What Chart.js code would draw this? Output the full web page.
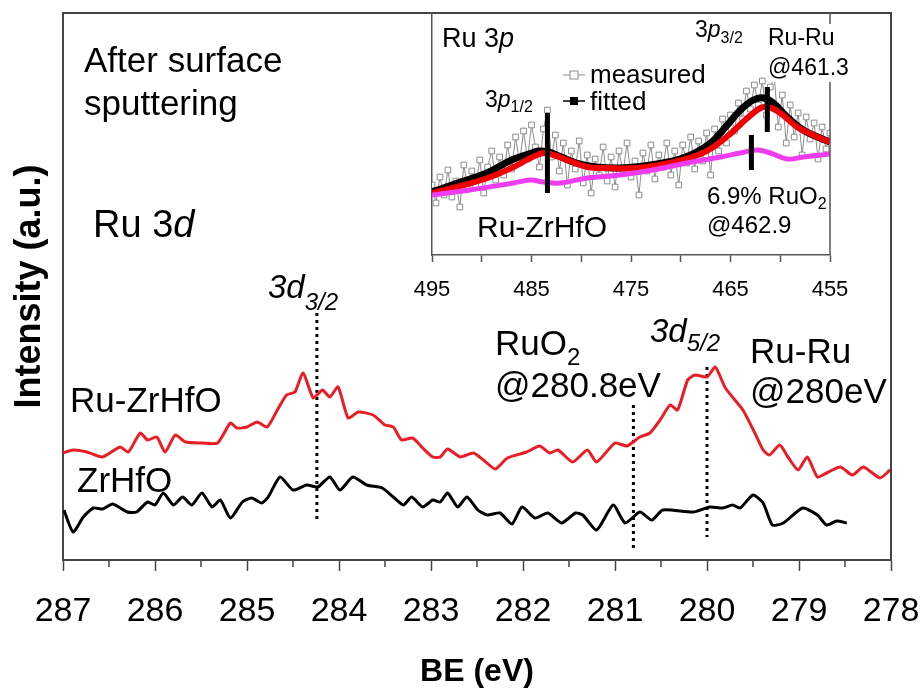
<!DOCTYPE html>
<html lang="en">
<head>
<meta charset="UTF-8">
<title>Ru 3d / Ru 3p XPS after surface sputtering</title>
<script src="https://cdn.jsdelivr.net/npm/chart.js"></script>
<style>
  body { margin: 0; background: #fff; }
  #wrap { position: relative; width: 921px; height: 690px; }
  #mainChart { position: absolute; left: 0; top: 0; }
  #insetChart { position: absolute; left: 400px; top: 0; }
</style>
</head>
<body>
<div id="wrap">
  <canvas id="mainChart" width="921" height="690"></canvas>
  <canvas id="insetChart" width="460" height="320"></canvas>
</div>
<script>
// ---- main panel: Ru 3d region (BE in eV, intensity in a.u.) ----
const ruZrHfO_BE = [287.00, 286.89, 286.74, 286.57, 286.38, 286.29, 286.16, 286.08, 285.98, 285.89,
  285.78, 285.67, 285.48, 285.32, 285.18, 285.11, 285.00, 284.89, 284.78, 284.67,
  284.57, 284.48, 284.39, 284.28, 284.18, 284.10, 284.01, 283.90, 283.79, 283.63,
  283.50, 283.41, 283.32, 283.20, 283.09, 282.98, 282.90, 282.82, 282.68, 282.54,
  282.43, 282.30, 282.17, 281.96, 281.82, 281.71, 281.62, 281.46, 281.30, 281.20,
  281.00, 280.87, 280.73, 280.62, 280.51, 280.40, 280.32, 280.21, 280.13, 280.00,
  279.91, 279.80, 279.61, 279.48, 279.39, 279.32, 279.21, 279.12, 279.01, 278.91,
  278.80, 278.70, 278.55, 278.42, 278.30, 278.12, 278.01];
const ruZrHfO_I = [107, 110, 108, 103, 113, 108, 127, 120, 123, 108,
  125, 118, 117, 117, 137, 132, 133, 138, 133, 150,
  165, 168, 187, 162, 170, 163, 173, 142, 148, 145,
  135, 133, 120, 122, 112, 103, 103, 111, 103, 107,
  100, 91, 102, 108, 114, 107, 110, 98, 110, 98,
  117, 114, 123, 127, 140, 155, 150, 180, 185, 183,
  193, 172, 150, 127, 110, 105, 115, 103, 90, 103,
  83, 87, 93, 85, 93, 82, 90];

const zrHfO_BE = [286.99, 286.89, 286.78, 286.67, 286.57, 286.46, 286.30, 286.20, 286.08, 286.00,
  285.91, 285.80, 285.70, 285.60, 285.49, 285.38, 285.29, 285.18, 285.05, 284.95,
  284.84, 284.77, 284.64, 284.50, 284.35, 284.23, 284.10, 283.99, 283.85, 283.70,
  283.53, 283.41, 283.30, 283.21, 283.09, 282.98, 282.90, 282.82, 282.71, 282.61,
  282.49, 282.39, 282.25, 282.12, 282.01, 281.87, 281.73, 281.58, 281.43, 281.35,
  281.20, 281.02, 280.89, 280.73, 280.60, 280.48, 280.15, 279.97, 279.83, 279.72,
  279.64, 279.50, 279.39, 279.29, 279.17, 278.96, 278.80, 278.70, 278.59, 278.48];
const zrHfO_I = [50, 28, 43, 52, 51, 56, 48, 48, 58, 55,
  67, 55, 63, 55, 67, 53, 60, 42, 58, 62,
  57, 63, 83, 70, 75, 73, 83, 70, 83, 75,
  72, 63, 55, 63, 53, 60, 58, 67, 53, 63,
  50, 45, 47, 36, 53, 42, 47, 37, 47, 45,
  30, 55, 37, 48, 40, 50, 48, 53, 52, 55,
  52, 65, 57, 35, 37, 52, 45, 35, 39, 37];

// dotted peak markers: 3d3/2, RuO2 3d5/2, Ru-Ru 3d5/2
const peakBE = [284.24, 280.8, 280.0];
const peakTop = [247, 155, 193];
const peakBottom = [37, 10, 23];

// ---- inset: Ru 3p region ----
const insetStartBE = 495;
const insetStepBE = 0.4;
const measuredI = [70, 52, 78, 60, 85, 58, 74, 48, 90, 66,
  84, 70, 95, 62, 88, 104, 75, 98, 80, 110,
  86, 118, 92, 124, 96, 130, 108, 88, 126, 145,
  98, 120, 84, 112, 70, 104, 86, 114, 72, 100,
  62, 96, 80, 108, 74, 98, 68, 104, 82, 112,
  78, 94, 60, 102, 84, 110, 76, 100, 88, 112,
  80, 104, 70, 110, 92, 118, 86, 114, 94, 122,
  80, 126, 104, 136, 112, 140, 124, 152, 136, 164,
  146, 170, 150, 174, 140, 168, 178, 128, 160, 112,
  150, 118, 142, 100, 138, 116, 132, 96, 128, 106, 122];

const fittedBE = [495, 493, 489.5, 487, 485, 484.3, 483.3, 482, 480.5, 478.5, 476, 473,
  469.5, 467, 465.5, 464, 462.7, 461.7, 460.7, 459.3, 457.7, 456, 455];
const fittedI = [63, 70, 82, 95, 102, 104, 103, 98, 92, 88, 87, 90,
  98, 112, 128, 145, 155, 157, 152, 138, 125, 117, 113];

const ruCompBE = [495, 492.9, 489.4, 486.8, 485.1, 483.8, 482.8, 481.4, 479.4, 477.4, 474.4,
  471.1, 467.8, 465.4, 463.3, 462.0, 461.2, 460.0, 458.3, 456.7, 455];
const ruCompI = [62, 67, 77, 88, 97, 102, 100, 95, 88, 87, 87,
  92, 102, 118, 137, 147, 148, 142, 128, 120, 113];

const ruO2CompBE = [495, 491.2, 486.8, 485.1, 483.8, 482.1, 479.4, 476.1, 472.8, 469.4,
  466.0, 464.0, 462.3, 461.0, 459.3, 457.7, 455];
const ruO2CompI = [60, 65, 72, 75, 73, 72, 77, 80, 85, 92,
  98, 102, 105, 102, 96, 98, 101];

// solid markers: 3p1/2, Ru-Ru 3p3/2 @461.3, RuO2 @462.9
const insetPeakBE = [483.4, 461.3, 462.9];
const insetPeakTop = [142, 168, 120];
const insetPeakBottom = [62, 123, 85];

const FONT = '"Liberation Sans", Arial, sans-serif';
Chart.defaults.font.family = FONT;
Chart.defaults.color = '#000';

const pts = (xs, ys) => xs.map((x, i) => ({ x: x, y: ys[i] }));

function drawParts(ctx, parts, x, y) {
  let cx = x;
  parts.forEach(p => {
    ctx.font = (p.it ? 'italic ' : '') + p.size + 'px ' + FONT;
    ctx.fillText(p.t, cx, y + (p.dy || 0));
    cx += ctx.measureText(p.t).width;
  });
  return cx;
}

// main chart
const mainDatasets = [
  { data: pts(ruZrHfO_BE, ruZrHfO_I), borderColor: '#ec1c24', borderWidth: 3, showLine: true, pointRadius: 0, tension: 0.2 },
  { data: pts(zrHfO_BE, zrHfO_I), borderColor: '#000', borderWidth: 3, showLine: true, pointRadius: 0, tension: 0.2 }
];
peakBE.forEach((be, i) => {
  mainDatasets.push({
    data: [{ x: be, y: peakTop[i] }, { x: be, y: peakBottom[i] }],
    borderColor: '#000', borderWidth: 3, borderDash: [3, 4], showLine: true, pointRadius: 0
  });
});

const mainDecor = {
  id: 'mainDecor',
  afterDraw(chart) {
    const { ctx, chartArea: a, scales } = chart;
    ctx.save();
    ctx.strokeStyle = '#444';
    ctx.lineWidth = 2;
    ctx.beginPath();
    ctx.moveTo(a.left, a.top);
    ctx.lineTo(a.right, a.top);
    ctx.lineTo(a.right, a.bottom);
    ctx.stroke();
    // minor ticks at half-eV
    ctx.lineWidth = 1.5;
    for (let v = 278.5; v < 287; v += 1) {
      const px = scales.x.getPixelForValue(v);
      ctx.beginPath();
      ctx.moveTo(px, a.bottom);
      ctx.lineTo(px, a.bottom + 7);
      ctx.stroke();
    }
    ctx.fillStyle = '#000';
    ctx.textBaseline = 'alphabetic';
    drawParts(ctx, [{ t: 'After surface', size: 35 }], 84, 72);
    drawParts(ctx, [{ t: 'sputtering', size: 35 }], 84, 115);
    drawParts(ctx, [{ t: 'Ru 3', size: 38 }, { t: 'd', size: 38, it: true }], 93, 237);
    drawParts(ctx, [{ t: '3d', size: 33, it: true }, { t: '3/2', size: 24, it: true, dy: 12 }], 268, 298);
    drawParts(ctx, [{ t: 'RuO', size: 35 }, { t: '2', size: 24, dy: 10 }], 495, 355);
    drawParts(ctx, [{ t: '@280.8eV', size: 35 }], 495, 397);
    drawParts(ctx, [{ t: '3d', size: 33, it: true }, { t: '5/2', size: 24, it: true, dy: 9 }], 650, 342);
    drawParts(ctx, [{ t: 'Ru-Ru', size: 35 }], 750, 363);
    drawParts(ctx, [{ t: '@280eV', size: 35 }], 750, 403);
    drawParts(ctx, [{ t: 'Ru-ZrHfO', size: 35 }], 70, 412);
    drawParts(ctx, [{ t: 'ZrHfO', size: 35 }], 77, 492);
    ctx.restore();
  }
};

new Chart(document.getElementById('mainChart'), {
  type: 'scatter',
  data: { datasets: mainDatasets },
  options: {
    responsive: false,
    animation: false,
    layout: { padding: { left: 12, right: 30, top: 13, bottom: 2 } },
    plugins: { legend: { display: false }, tooltip: { enabled: false } },
    scales: {
      x: {
        type: 'linear', min: 278, max: 287, reverse: true,
        ticks: { stepSize: 1, autoSkip: false, maxRotation: 0, padding: 1, font: { size: 34, lineHeight: 80 / 34 }, color: '#000' },
        grid: { drawOnChartArea: false, tickLength: 11, color: '#444', tickWidth: 1.5 },
        border: { color: '#444', width: 2 },
        title: { display: true, text: 'BE (eV)', font: { size: 32, weight: 'bold', lineHeight: 1 }, padding: { top: 3, bottom: 0 }, color: '#000' }
      },
      y: {
        min: 0, max: 547,
        ticks: { display: false },
        grid: { drawOnChartArea: false, drawTicks: false },
        border: { color: '#444', width: 2 },
        title: { display: true, text: 'Intensity (a.u.)', font: { size: 36, weight: 'bold', lineHeight: 1 }, padding: { top: 0, bottom: 15 }, color: '#000' }
      }
    }
  },
  plugins: [mainDecor]
});

// inset chart
const measuredBE = measuredI.map((_, i) => +(insetStartBE - i * insetStepBE).toFixed(1));
const insetDatasets = [
  { data: pts(measuredBE, measuredI), order: 5, showLine: true, borderColor: '#8c8c8c', borderWidth: 1,
    pointStyle: 'rect', pointRadius: 4, pointBackgroundColor: '#fff', pointBorderColor: '#8c8c8c', pointBorderWidth: 1 },
  { data: pts(fittedBE, fittedI), order: 4, showLine: true, borderColor: '#000', borderWidth: 7, pointRadius: 0, tension: 0.4 },
  { data: pts(ruCompBE, ruCompI), order: 3, showLine: true, borderColor: '#f00000', borderWidth: 6, pointRadius: 0, tension: 0.4 },
  { data: pts(ruO2CompBE, ruO2CompI), order: 2, showLine: true, borderColor: '#f03cf0', borderWidth: 5, pointRadius: 0, tension: 0.4 }
];
insetPeakBE.forEach((be, i) => {
  insetDatasets.push({
    data: [{ x: be, y: insetPeakTop[i] }, { x: be, y: insetPeakBottom[i] }],
    order: 1, showLine: true, borderColor: '#000', borderWidth: 5, pointRadius: 0
  });
});

const insetDecor = {
  id: 'insetDecor',
  afterDraw(chart) {
    const { ctx, chartArea: a } = chart;
    const ox = 400; // page x of this canvas
    ctx.save();
    ctx.strokeStyle = '#555';
    ctx.lineWidth = 1.5;
    ctx.beginPath();
    ctx.moveTo(a.right, a.top);
    ctx.lineTo(a.right, a.bottom);
    ctx.stroke();
    ctx.fillStyle = '#000';
    // legend
    ctx.strokeStyle = '#8c8c8c';
    ctx.lineWidth = 1;
    ctx.beginPath(); ctx.moveTo(563 - ox, 75); ctx.lineTo(585 - ox, 75); ctx.stroke();
    ctx.fillStyle = '#fff';
    ctx.fillRect(570 - ox, 71, 8, 8);
    ctx.strokeRect(570 - ox, 71, 8, 8);
    ctx.strokeStyle = '#000';
    ctx.lineWidth = 1.5;
    ctx.beginPath(); ctx.moveTo(563 - ox, 101); ctx.lineTo(585 - ox, 101); ctx.stroke();
    ctx.fillStyle = '#000';
    ctx.fillRect(570 - ox, 97, 8, 8);
    drawParts(ctx, [{ t: 'measured', size: 26 }], 590 - ox, 83);
    drawParts(ctx, [{ t: 'fitted', size: 26 }], 590 - ox, 110);
    // labels
    drawParts(ctx, [{ t: 'Ru 3', size: 27 }, { t: 'p', size: 27, it: true }], 442 - ox, 47);
    drawParts(ctx, [{ t: '3', size: 23 }, { t: 'p', size: 23, it: true }, { t: '3/2', size: 16, dy: 6 }], 695 - ox, 37);
    drawParts(ctx, [{ t: '3', size: 23 }, { t: 'p', size: 23, it: true }, { t: '1/2', size: 16, dy: 5 }], 485 - ox, 107);
    ctx.fillStyle = '#fff';
    ctx.fillRect(766 - ox, 24, 94, 58);
    ctx.fillStyle = '#000';
    drawParts(ctx, [{ t: 'Ru-Ru', size: 23 }], 768 - ox, 45);
    drawParts(ctx, [{ t: '@461.3', size: 23 }], 768 - ox, 75);
    drawParts(ctx, [{ t: 'Ru-ZrHfO', size: 30 }], 477 - ox, 237);
    drawParts(ctx, [{ t: '6.9% RuO', size: 24 }, { t: '2', size: 16, dy: 5 }], 707 - ox, 204);
    drawParts(ctx, [{ t: '@462.9', size: 24 }], 707 - ox, 233);
    ctx.restore();
  }
};

new Chart(document.getElementById('insetChart'), {
  type: 'scatter',
  data: { datasets: insetDatasets },
  options: {
    responsive: false,
    animation: false,
    layout: { padding: { left: 32, right: 30, top: 13, bottom: 2 } },
    plugins: { legend: { display: false }, tooltip: { enabled: false } },
    scales: {
      x: {
        type: 'linear', min: 455, max: 495, reverse: true,
        ticks: { stepSize: 5, autoSkip: false, maxRotation: 0, padding: 1, font: { size: 22, lineHeight: 54 / 22 }, color: '#000',
          callback: v => (v % 10 === 5 ? String(v) : '') },
        grid: { drawOnChartArea: false, tickLength: 7, color: '#555', tickWidth: 1.5 },
        border: { color: '#555', width: 1.5 }
      },
      y: {
        min: 0, max: 242,
        ticks: { display: false },
        grid: { drawOnChartArea: false, drawTicks: false },
        border: { color: '#555', width: 1.5 }
      }
    }
  },
  plugins: [insetDecor]
});
</script>
</body>
</html>
